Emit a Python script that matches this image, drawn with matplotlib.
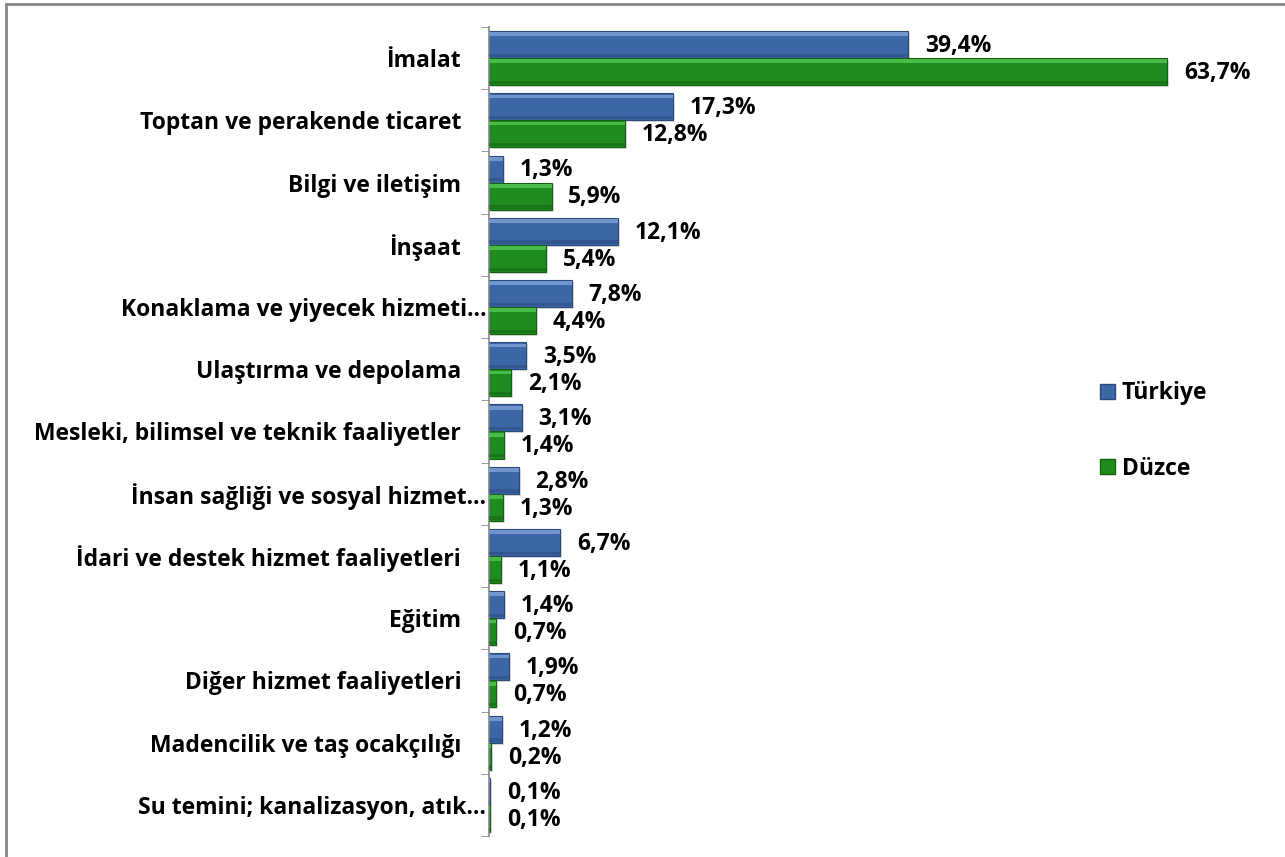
import matplotlib.pyplot as plt
import matplotlib.transforms as mtransforms
from matplotlib.patches import Rectangle
import numpy as np

plt.rcParams['font.family'] = ['Open Sans', 'DejaVu Sans']
plt.rcParams['font.weight'] = 'bold'

# data (top to bottom as in the chart)
categories = [
    "İmalat",
    "Toptan ve perakende ticaret",
    "Bilgi ve iletişim",
    "İnşaat",
    "Konaklama ve yiyecek hizmeti…",
    "Ulaştırma ve depolama",
    "Mesleki, bilimsel ve teknik faaliyetler",
    "İnsan sağliği ve sosyal hizmet…",
    "İdari ve destek hizmet faaliyetleri",
    "Eğitim",
    "Diğer hizmet faaliyetleri",
    "Madencilik ve taş ocakçılığı",
    "Su temini; kanalizasyon, atık…",
]
turkiye = [39.4, 17.3, 1.3, 12.1, 7.8, 3.5, 3.1, 2.8, 6.7, 1.4, 1.9, 1.2, 0.1]
duzce = [63.7, 12.8, 5.9, 5.4, 4.4, 2.1, 1.4, 1.3, 1.1, 0.7, 0.7, 0.2, 0.1]

series = [
    ("Türkiye", turkiye, "#3D66A6", "#7FA3D8", "#2A4A7C"),
    ("Düzce", duzce, "#1E8C1E", "#55C855", "#145F14"),
]

fig = plt.figure(figsize=(12.85, 8.57), dpi=100)
ax = fig.add_axes([0.3805, 0.0245, 0.58, 0.944])

n = len(categories)
y = np.arange(n)
h = 0.435
fs = 16.5

handles = []
for i, (name, vals, base, light, dark) in enumerate(series):
    yy = y - h / 2 + i * h
    # shadow
    ax.barh(yy + 0.03, vals, height=h, left=0, color="#BBBBBB", alpha=0.5,
            transform=ax.transData + mtransforms.ScaledTranslation(0.02, 0, fig.dpi_scale_trans),
            zorder=1)
    bars = ax.barh(yy, vals, height=h, color=base, edgecolor=dark, linewidth=0.8, zorder=2)
    # bevel highlight (top) and dark lower edge
    ax.barh(yy - h * 0.38, vals, height=h * 0.14, color=light, linewidth=0, zorder=3, alpha=0.8)
    ax.barh(yy + h * 0.40, vals, height=h * 0.12, color=dark, linewidth=0, zorder=3, alpha=0.5)
    for b, v in zip(bars, vals):
        ax.annotate(f"{v:.1f}%".replace(".", ","), (v, b.get_y() + b.get_height() / 2),
                    xytext=(12, -1), textcoords="offset points", va="center", ha="left",
                    fontsize=fs, fontweight="bold", color="black", zorder=5)
    handles.append(Rectangle((0, 0), 1, 1, facecolor=base, edgecolor=dark))

ax.set_ylim(n - 0.5, -0.5)
ax.set_xlim(0, 70)
ax.set_yticks(y)
ax.set_yticklabels(categories, fontsize=fs, fontweight="bold")
ax.set_yticks(np.arange(n + 1) - 0.5, minor=True)
ax.tick_params(axis="y", which="major", length=0, pad=20)
ax.tick_params(axis="y", which="minor", length=6, color="#888888", direction="out")
ax.set_xticks([])
for s in ["top", "right", "bottom"]:
    ax.spines[s].set_visible(False)
ax.spines["left"].set_color("#888888")
ax.spines["left"].set_linewidth(1.2)

# truncated labels sit closer to the axis
for lab in ax.get_yticklabels():
    if lab.get_text().endswith("…"):
        lab.set_transform(lab.get_transform() +
                          mtransforms.ScaledTranslation(0.25, 0, fig.dpi_scale_trans))

fig.legend(handles, [s[0] for s in series], loc="center left",
           bbox_to_anchor=(0.84, 0.497), frameon=False,
           prop={"weight": "bold", "size": fs}, handlelength=0.65, handleheight=0.65,
           handletextpad=0.3, labelspacing=2.25)

# figure border (top and left visible)
fig.add_artist(plt.Line2D([0.0047, 1.0], [0.9953, 0.9953], color="#888888", lw=2,
                          transform=fig.transFigure))
fig.add_artist(plt.Line2D([0.0047, 0.0047], [0.0, 0.9953], color="#888888", lw=2,
                          transform=fig.transFigure))

fig.savefig("out.png", dpi=100)
